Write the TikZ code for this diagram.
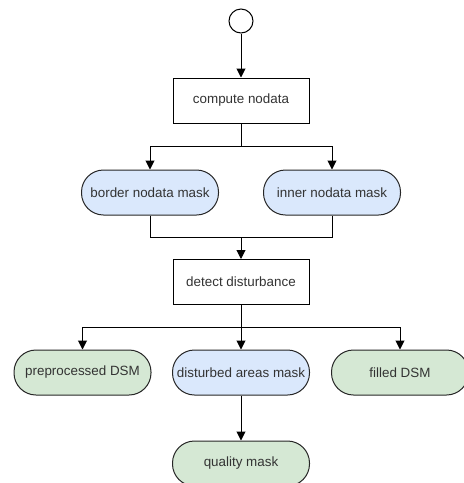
\documentclass[tikz,border=0pt]{standalone}
\usepackage{fontspec}
\setmainfont{Liberation Sans}
\usetikzlibrary{arrows.meta}
\definecolor{txt}{HTML}{333333}
\definecolor{bluefill}{HTML}{DAE8FC}
\definecolor{greenfill}{HTML}{D5E8D4}
\begin{document}
\begin{tikzpicture}[x=1pt,y=-1pt,
  every node/.style={font=\fontsize{13.4}{15}\selectfont, text=txt},
  procbox/.style={draw=black, line width=1pt, fill=white, minimum width=136pt, minimum height=45pt, inner sep=0pt},
  pill/.style={draw=black!85, line width=1pt, minimum width=137pt, minimum height=45pt, rounded corners=22pt, inner sep=0pt},
  bluepill/.style={pill, fill=bluefill},
  greenpill/.style={pill, fill=greenfill},
  conn/.style={line width=1pt, draw=black},
  arr/.style={conn, -{Triangle[width=9pt,length=9pt]}}
]
\useasboundingbox (0,0) rectangle (464,483);
\node[circle, draw=black, line width=1pt, minimum size=24pt, inner sep=0pt] (start) at (241,21) {};
\node[procbox] (compute) at (241,100.5) {compute nodata};
\node[bluepill] (border) at (150,192.5) {border nodata mask};
\node[bluepill] (inner) at (332,192.5) {inner nodata mask};
\node[procbox] (detect) at (241,282) {detect disturbance};
\node[greenpill] (pre) at (82.5,372.5) {preprocessed DSM};
\node[bluepill] (dist) at (241,372.5) {disturbed areas mask};
\node[greenpill] (filled) at (400,372.5) {filled DSM};
\node[greenpill] (quality) at (241,463.5) {quality mask};

\coordinate (split1) at (241,146);
\coordinate (merge) at (241,237);
\coordinate (split2) at (241,327);

\draw[arr] (start) -- (compute);
\draw[conn] (compute) -- (split1);
\draw[arr] (split1) -| (border);
\draw[arr] (split1) -| (inner);
\draw[conn] (border.south) |- (merge);
\draw[conn] (inner.south) |- (merge);
\draw[arr] (merge) -- (detect);
\draw[conn] (detect) -- (split2);
\draw[arr] (split2) -| (pre);
\draw[arr] (split2) -- (dist);
\draw[arr] (split2) -| (filled);
\draw[arr] (dist) -- (quality);
\end{tikzpicture}
\end{document}
